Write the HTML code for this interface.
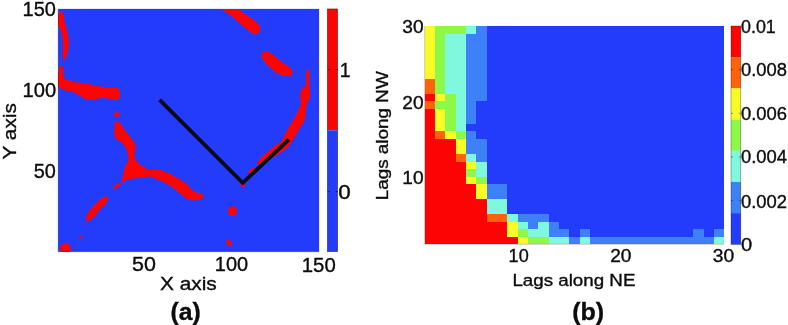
<!DOCTYPE html>
<html lang="en">
<head>
<meta charset="utf-8">
<title>Figure: binary map and lag plot</title>
<style>
html,body{margin:0;padding:0;background:#fff;}
body{width:788px;height:325px;overflow:hidden;}
svg{display:block;}
text{font-family:"Liberation Sans",Arial,Helvetica,sans-serif;fill:#0c0c0c;stroke:#0c0c0c;stroke-width:0.35px;}
</style>
</head>
<body>
<svg width="788" height="325" viewBox="0 0 788 325">
<rect width="788" height="325" fill="#fff"/>
<defs><clipPath id="ca"><rect x="58.2" y="8.9" width="260.9" height="242.8"/></clipPath></defs>
<!-- panel a -->
<rect x="58.2" y="8.9" width="260.9" height="242.8" fill="#233cfc"/>
<g clip-path="url(#ca)" fill="#fd0404">
<path d="M60 11.5C60.67 11.25 61.98 10.67 62.8 12.5C63.62 14.33 64.13 19.3 64.9 22.5C65.67 25.7 66.72 28.63 67.4 31.7C68.08 34.77 68.87 37.82 69 40.9C69.13 43.98 68.73 47.38 68.2 50.2C67.67 53.02 66.45 55.97 65.8 57.8C65.15 59.63 64.73 61 64.3 61.2C63.87 61.4 63.45 60.37 63.2 59C62.95 57.63 62.87 56 62.8 53C62.73 50 63.07 44.55 62.8 41C62.53 37.45 61.75 34.03 61.2 31.7C60.65 29.37 60.12 28.28 59.5 27C58.88 25.72 57.83 25.67 57.5 24C57.17 22.33 57.28 18.67 57.5 17C57.72 15.33 58.38 14.92 58.8 14C59.22 13.08 59.33 11.75 60 11.5Z"/>
<path d="M60 66C60.62 65.42 62.42 65.5 63 66.5C63.58 67.5 63.37 70.08 63.5 72C63.63 73.92 63.38 76.75 63.8 78C64.22 79.25 64.97 79.08 66 79.5C67.03 79.92 68.5 80.08 70 80.5C71.5 80.92 73 81.58 75 82C77 82.42 79.83 82.67 82 83C84.17 83.33 85.83 83.58 88 84C90.17 84.42 92.92 85.08 95 85.5C97.08 85.92 98.33 86.17 100.5 86.5C102.67 86.83 105.5 87.25 108 87.5C110.5 87.75 113.67 87.67 115.5 88C117.33 88.33 118.25 88.67 119 89.5C119.75 90.33 119.92 91.58 120 93C120.08 94.42 120 96.83 119.5 98C119 99.17 118.25 99.75 117 100C115.75 100.25 113.92 99.83 112 99.5C110.08 99.17 107.83 98.18 105.5 98C103.17 97.82 99.92 98.15 98 98.4C96.08 98.65 95.27 99.23 94 99.5C92.73 99.77 91.73 100.08 90.4 100C89.07 99.92 87.27 99.43 86 99C84.73 98.57 84.13 98.15 82.8 97.4C81.47 96.65 79.3 95.27 78 94.5C76.7 93.73 76.33 93.3 75 92.8C73.67 92.3 71.67 91.92 70 91.5C68.33 91.08 66.5 90.8 65 90.3C63.5 89.8 62.25 89.13 61 88.5C59.75 87.87 58.08 88.25 57.5 86.5C56.92 84.75 57.2 80.75 57.5 78C57.8 75.25 58.88 72 59.3 70C59.72 68 59.38 66.58 60 66Z"/>
<path d="M117 121.5C117.95 121.63 119.23 122.15 120.7 123.8C122.17 125.45 123.92 128.87 125.8 131.4C127.68 133.93 130.4 136.68 132 139C133.6 141.32 134.9 143.47 135.4 145.3C135.9 147.13 135.13 148.32 135 150C134.87 151.68 134.27 153.45 134.6 155.4C134.93 157.35 135.53 159.82 137 161.7C138.47 163.58 141.23 165.32 143.4 166.7C145.57 168.08 147.63 169.58 150 170C152.37 170.42 155.07 168.9 157.6 169.2C160.13 169.5 162.25 170.53 165.2 171.8C168.15 173.07 171.93 174.92 175.3 176.8C178.67 178.68 182.45 180.78 185.4 183.1C188.35 185.42 190.27 188.88 193 190.7C195.73 192.52 200.05 193.12 201.8 194C203.55 194.88 203.47 195.17 203.5 196C203.53 196.83 202.92 198.37 202 199C201.08 199.63 199.93 199.58 198 199.8C196.07 200.02 192.93 200.97 190.4 200.3C187.87 199.63 185.32 197.62 182.8 195.8C180.28 193.98 178.23 191.52 175.3 189.4C172.37 187.28 168.58 184.9 165.2 183.1C161.82 181.3 157.53 179.7 155 178.6C152.47 177.5 152.77 176.6 150 176.5C147.23 176.4 142.02 177.53 138.4 178C134.78 178.47 130.83 178.65 128.3 179.3C125.77 179.95 124.33 181.37 123.2 181.9C122.07 182.43 121.7 183.15 121.5 182.5C121.3 181.85 121.72 179.15 122 178C122.28 176.85 122.78 177.27 123.2 175.6C123.62 173.93 123.65 170.53 124.5 168C125.35 165.47 127.8 162.57 128.3 160.4C128.8 158.23 127.72 156.68 127.5 155C127.28 153.32 127.92 152.35 127 150.3C126.08 148.25 123.67 144.5 122 142.7C120.33 140.9 118.13 140.33 117 139.5C115.87 138.67 115.67 138.78 115.2 137.7C114.73 136.62 114.33 134.68 114.2 133C114.07 131.32 114.27 129.27 114.4 127.6C114.53 125.93 114.57 124.02 115 123C115.43 121.98 116.05 121.37 117 121.5Z"/>
<path d="M221 7C222.92 6.25 233.25 6.42 236.5 7C239.75 7.58 239.08 9.33 240.5 10.5C241.92 11.67 242.75 12.42 245 14C247.25 15.58 251.53 17.92 254 20C256.47 22.08 258.8 24.83 259.8 26.5C260.8 28.17 260.3 28.83 260 30C259.7 31.17 258.78 32.75 258 33.5C257.22 34.25 256.38 34.62 255.3 34.5C254.22 34.38 253.22 33.92 251.5 32.8C249.78 31.68 247.32 29.68 245 27.8C242.68 25.92 239.97 23.55 237.6 21.5C235.23 19.45 232.9 17.17 230.8 15.5C228.7 13.83 226.63 12.92 225 11.5C223.37 10.08 219.08 7.75 221 7Z"/>
<path d="M261.5 54.3C261.7 53.08 262.92 52.42 264 52C265.08 51.58 266.08 51 268 51.8C269.92 52.6 273 54.93 275.5 56.8C278 58.67 280.48 61.13 283 63C285.52 64.87 289.02 66.5 290.6 68C292.18 69.5 292.35 70.83 292.5 72C292.65 73.17 292.03 74.33 291.5 75C290.97 75.67 290.72 75.87 289.3 76C287.88 76.13 285.3 76.47 283 75.8C280.7 75.13 278 73.7 275.5 72C273 70.3 270.12 67.72 268 65.6C265.88 63.48 263.88 61.18 262.8 59.3C261.72 57.42 261.3 55.52 261.5 54.3Z"/>
<path d="M308.3 69.6C308.8 69.77 309.3 69.43 309.5 72C309.7 74.57 309.45 82.17 309.5 85C309.55 87.83 309.67 87.33 309.8 89C309.93 90.67 310.43 93.17 310.3 95C310.17 96.83 309.55 98.5 309 100C308.45 101.5 307.53 102.25 307 104C306.47 105.75 306.22 107.73 305.8 110.5C305.38 113.27 305.77 117.23 304.5 120.6C303.23 123.97 300.12 127.47 298.2 130.7C296.28 133.93 294.7 137.28 293 140C291.3 142.72 290 144.92 288 147C286 149.08 283.33 150.83 281 152.5C278.67 154.17 276.5 155.5 274 157C271.5 158.5 268.67 160.25 266 161.5C263.33 162.75 259.5 164.25 258 164.5C256.5 164.75 256.33 164.25 257 163C257.67 161.75 260.17 158.92 262 157C263.83 155.08 265.67 153.5 268 151.5C270.33 149.5 273.7 146.78 276 145C278.3 143.22 280 143.18 281.8 140.8C283.6 138.42 284.93 134.07 286.8 130.7C288.67 127.33 291.1 123.97 293 120.6C294.9 117.23 296.92 113.27 298.2 110.5C299.48 107.73 300.32 105.75 300.7 104C301.08 102.25 300.58 101.5 300.5 100C300.42 98.5 299.95 96.83 300.2 95C300.45 93.17 301.07 90.67 302 89C302.93 87.33 305.17 87.33 305.8 85C306.43 82.67 305.68 77.33 305.8 75C305.92 72.67 306.08 71.9 306.5 71C306.92 70.1 307.8 69.43 308.3 69.6Z"/>
<circle cx="116.8" cy="114.6" r="2.6"/>
<ellipse cx="117" cy="186" rx="4.4" ry="1.7" transform="rotate(-38 117 186)"/>
<path d="M86.1 220.4C86.02 219.13 86.47 216.12 87.4 214.1C88.33 212.08 90.15 210.2 91.7 208.3C93.25 206.4 95.02 204.38 96.7 202.7C98.38 201.02 100.12 199.25 101.8 198.2C103.48 197.15 105.75 196.28 106.8 196.4C107.85 196.52 108.3 197.63 108.1 198.9C107.9 200.17 106.87 202.32 105.6 204C104.33 205.68 101.98 207.32 100.5 209C99.02 210.68 98.17 212.42 96.7 214.1C95.23 215.78 93.17 217.83 91.7 219.1C90.23 220.37 88.83 221.48 87.9 221.7C86.97 221.92 86.18 221.67 86.1 220.4Z"/>
<circle cx="80.8" cy="236.8" r="1.5"/>
<ellipse cx="65.5" cy="248.8" rx="5.4" ry="5.6"/>
<ellipse cx="232.6" cy="211.2" rx="4.5" ry="5"/>
<ellipse cx="229" cy="243" rx="2.3" ry="3.6" transform="rotate(-25 229 243)"/>
<ellipse cx="251.5" cy="170.8" rx="4" ry="1.8" transform="rotate(-40 251.5 170.8)"/>
<circle cx="242.7" cy="184.8" r="2.4"/>
<circle cx="317.8" cy="63" r="0.8"/>
</g>
<path d="M159.6 99.9 L242.7 182.9 L288.8 139.6" fill="none" stroke="#0a0a14" stroke-width="3.8" stroke-linejoin="miter"/>
<rect x="327.3" y="8.9" width="10.4" height="121.4" fill="#fd0404"/>
<rect x="327.3" y="130.3" width="10.4" height="121.4" fill="#233cfc"/>
<!-- panel b -->
<g shape-rendering="crispEdges">
<rect x="424.6" y="26" width="299.5" height="218.3" fill="#233cfc"/>
<rect x="424.6" y="26" width="10.48" height="7.68" fill="#f8fc24"/>
<rect x="434.93" y="26" width="31.13" height="7.68" fill="#8ef848"/>
<rect x="465.91" y="26" width="10.48" height="7.68" fill="#7ef9dd"/>
<rect x="476.24" y="26" width="10.48" height="7.68" fill="#3d80f8"/>
<rect x="424.6" y="33.53" width="10.48" height="7.68" fill="#f8fc24"/>
<rect x="434.93" y="33.53" width="10.48" height="7.68" fill="#8ef848"/>
<rect x="445.26" y="33.53" width="20.81" height="7.68" fill="#7ef9dd"/>
<rect x="465.91" y="33.53" width="20.81" height="7.68" fill="#3d80f8"/>
<rect x="424.6" y="41.06" width="10.48" height="7.68" fill="#f8fc24"/>
<rect x="434.93" y="41.06" width="10.48" height="7.68" fill="#8ef848"/>
<rect x="445.26" y="41.06" width="20.81" height="7.68" fill="#7ef9dd"/>
<rect x="465.91" y="41.06" width="20.81" height="7.68" fill="#3d80f8"/>
<rect x="424.6" y="48.58" width="10.48" height="7.68" fill="#f8fc24"/>
<rect x="434.93" y="48.58" width="10.48" height="7.68" fill="#8ef848"/>
<rect x="445.26" y="48.58" width="20.81" height="7.68" fill="#7ef9dd"/>
<rect x="465.91" y="48.58" width="20.81" height="7.68" fill="#3d80f8"/>
<rect x="424.6" y="56.11" width="10.48" height="7.68" fill="#f8fc24"/>
<rect x="434.93" y="56.11" width="10.48" height="7.68" fill="#8ef848"/>
<rect x="445.26" y="56.11" width="20.81" height="7.68" fill="#7ef9dd"/>
<rect x="465.91" y="56.11" width="20.81" height="7.68" fill="#3d80f8"/>
<rect x="424.6" y="63.64" width="10.48" height="7.68" fill="#f8fc24"/>
<rect x="434.93" y="63.64" width="10.48" height="7.68" fill="#8ef848"/>
<rect x="445.26" y="63.64" width="20.81" height="7.68" fill="#7ef9dd"/>
<rect x="465.91" y="63.64" width="20.81" height="7.68" fill="#3d80f8"/>
<rect x="424.6" y="71.17" width="10.48" height="7.68" fill="#f8fc24"/>
<rect x="434.93" y="71.17" width="10.48" height="7.68" fill="#8ef848"/>
<rect x="445.26" y="71.17" width="20.81" height="7.68" fill="#7ef9dd"/>
<rect x="465.91" y="71.17" width="20.81" height="7.68" fill="#3d80f8"/>
<rect x="424.6" y="78.69" width="10.48" height="7.68" fill="#ff620a"/>
<rect x="434.93" y="78.69" width="10.48" height="7.68" fill="#8ef848"/>
<rect x="445.26" y="78.69" width="20.81" height="7.68" fill="#7ef9dd"/>
<rect x="465.91" y="78.69" width="20.81" height="7.68" fill="#3d80f8"/>
<rect x="424.6" y="86.22" width="10.48" height="7.68" fill="#ff620a"/>
<rect x="434.93" y="86.22" width="10.48" height="7.68" fill="#8ef848"/>
<rect x="445.26" y="86.22" width="20.81" height="7.68" fill="#7ef9dd"/>
<rect x="465.91" y="86.22" width="20.81" height="7.68" fill="#3d80f8"/>
<rect x="424.6" y="93.75" width="10.48" height="7.68" fill="#fd0404"/>
<rect x="434.93" y="93.75" width="10.48" height="7.68" fill="#f8fc24"/>
<rect x="445.26" y="93.75" width="10.48" height="7.68" fill="#8ef848"/>
<rect x="455.58" y="93.75" width="10.48" height="7.68" fill="#7ef9dd"/>
<rect x="465.91" y="93.75" width="20.81" height="7.68" fill="#3d80f8"/>
<rect x="424.6" y="101.28" width="10.48" height="7.68" fill="#ff620a"/>
<rect x="434.93" y="101.28" width="20.81" height="7.68" fill="#8ef848"/>
<rect x="455.58" y="101.28" width="10.48" height="7.68" fill="#7ef9dd"/>
<rect x="465.91" y="101.28" width="10.48" height="7.68" fill="#3d80f8"/>
<rect x="424.6" y="108.8" width="10.48" height="7.68" fill="#fd0404"/>
<rect x="434.93" y="108.8" width="10.48" height="7.68" fill="#f8fc24"/>
<rect x="445.26" y="108.8" width="10.48" height="7.68" fill="#8ef848"/>
<rect x="455.58" y="108.8" width="10.48" height="7.68" fill="#7ef9dd"/>
<rect x="465.91" y="108.8" width="10.48" height="7.68" fill="#3d80f8"/>
<rect x="424.6" y="116.33" width="10.48" height="7.68" fill="#fd0404"/>
<rect x="434.93" y="116.33" width="10.48" height="7.68" fill="#f8fc24"/>
<rect x="445.26" y="116.33" width="10.48" height="7.68" fill="#8ef848"/>
<rect x="455.58" y="116.33" width="10.48" height="7.68" fill="#7ef9dd"/>
<rect x="465.91" y="116.33" width="10.48" height="7.68" fill="#3d80f8"/>
<rect x="424.6" y="123.86" width="10.48" height="7.68" fill="#fd0404"/>
<rect x="434.93" y="123.86" width="10.48" height="7.68" fill="#f8fc24"/>
<rect x="445.26" y="123.86" width="10.48" height="7.68" fill="#8ef848"/>
<rect x="455.58" y="123.86" width="10.48" height="7.68" fill="#7ef9dd"/>
<rect x="424.6" y="131.39" width="10.48" height="7.68" fill="#fd0404"/>
<rect x="434.93" y="131.39" width="10.48" height="7.68" fill="#ff620a"/>
<rect x="445.26" y="131.39" width="10.48" height="7.68" fill="#f8fc24"/>
<rect x="455.58" y="131.39" width="10.48" height="7.68" fill="#8ef848"/>
<rect x="465.91" y="131.39" width="10.48" height="7.68" fill="#3d80f8"/>
<rect x="424.6" y="138.91" width="31.13" height="7.68" fill="#fd0404"/>
<rect x="455.58" y="138.91" width="10.48" height="7.68" fill="#f8fc24"/>
<rect x="465.91" y="138.91" width="20.81" height="7.68" fill="#3d80f8"/>
<rect x="424.6" y="146.44" width="31.13" height="7.68" fill="#fd0404"/>
<rect x="455.58" y="146.44" width="10.48" height="7.68" fill="#f8fc24"/>
<rect x="465.91" y="146.44" width="20.81" height="7.68" fill="#3d80f8"/>
<rect x="424.6" y="153.97" width="31.13" height="7.68" fill="#fd0404"/>
<rect x="455.58" y="153.97" width="10.48" height="7.68" fill="#ff620a"/>
<rect x="465.91" y="153.97" width="10.48" height="7.68" fill="#7ef9dd"/>
<rect x="476.24" y="153.97" width="10.48" height="7.68" fill="#3d80f8"/>
<rect x="424.6" y="161.5" width="41.46" height="7.68" fill="#fd0404"/>
<rect x="465.91" y="161.5" width="10.48" height="7.68" fill="#f8fc24"/>
<rect x="476.24" y="161.5" width="10.48" height="7.68" fill="#7ef9dd"/>
<rect x="424.6" y="169.02" width="41.46" height="7.68" fill="#fd0404"/>
<rect x="465.91" y="169.02" width="10.48" height="7.68" fill="#8ef848"/>
<rect x="476.24" y="169.02" width="10.48" height="7.68" fill="#7ef9dd"/>
<rect x="424.6" y="176.55" width="41.46" height="7.68" fill="#fd0404"/>
<rect x="465.91" y="176.55" width="10.48" height="7.68" fill="#f8fc24"/>
<rect x="476.24" y="176.55" width="10.48" height="7.68" fill="#8ef848"/>
<rect x="424.6" y="184.08" width="51.79" height="7.68" fill="#fd0404"/>
<rect x="476.24" y="184.08" width="10.48" height="7.68" fill="#f8fc24"/>
<rect x="486.57" y="184.08" width="20.81" height="7.68" fill="#3d80f8"/>
<rect x="424.6" y="191.61" width="51.79" height="7.68" fill="#fd0404"/>
<rect x="476.24" y="191.61" width="10.48" height="7.68" fill="#f8fc24"/>
<rect x="486.57" y="191.61" width="20.81" height="7.68" fill="#3d80f8"/>
<rect x="424.6" y="199.13" width="62.12" height="7.68" fill="#fd0404"/>
<rect x="486.57" y="199.13" width="20.81" height="7.68" fill="#7ef9dd"/>
<rect x="424.6" y="206.66" width="62.12" height="7.68" fill="#fd0404"/>
<rect x="486.57" y="206.66" width="20.81" height="7.68" fill="#7ef9dd"/>
<rect x="424.6" y="214.19" width="62.12" height="7.68" fill="#fd0404"/>
<rect x="486.57" y="214.19" width="20.81" height="7.68" fill="#ff620a"/>
<rect x="507.22" y="214.19" width="10.48" height="7.68" fill="#7ef9dd"/>
<rect x="517.55" y="214.19" width="31.13" height="7.68" fill="#3d80f8"/>
<rect x="424.6" y="221.72" width="82.77" height="7.68" fill="#fd0404"/>
<rect x="507.22" y="221.72" width="10.48" height="7.68" fill="#f8fc24"/>
<rect x="517.55" y="221.72" width="10.48" height="7.68" fill="#7ef9dd"/>
<rect x="527.88" y="221.72" width="10.48" height="7.68" fill="#3d80f8"/>
<rect x="538.2" y="221.72" width="10.48" height="7.68" fill="#7ef9dd"/>
<rect x="548.53" y="221.72" width="10.48" height="7.68" fill="#3d80f8"/>
<rect x="424.6" y="229.24" width="82.77" height="7.68" fill="#fd0404"/>
<rect x="507.22" y="229.24" width="10.48" height="7.68" fill="#f8fc24"/>
<rect x="517.55" y="229.24" width="10.48" height="7.68" fill="#8ef848"/>
<rect x="527.88" y="229.24" width="20.81" height="7.68" fill="#7ef9dd"/>
<rect x="548.53" y="229.24" width="20.81" height="7.68" fill="#3d80f8"/>
<rect x="579.51" y="229.24" width="10.48" height="7.68" fill="#3d80f8"/>
<rect x="693.12" y="229.24" width="10.48" height="7.68" fill="#3d80f8"/>
<rect x="713.77" y="229.24" width="10.48" height="7.68" fill="#3d80f8"/>
<rect x="424.6" y="236.77" width="93.1" height="7.68" fill="#fd0404"/>
<rect x="517.55" y="236.77" width="10.48" height="7.68" fill="#f8fc24"/>
<rect x="527.88" y="236.77" width="20.81" height="7.68" fill="#8ef848"/>
<rect x="548.53" y="236.77" width="20.81" height="7.68" fill="#7ef9dd"/>
<rect x="569.19" y="236.77" width="10.48" height="7.68" fill="#3d80f8"/>
<rect x="579.51" y="236.77" width="10.48" height="7.68" fill="#7ef9dd"/>
<rect x="589.84" y="236.77" width="124.08" height="7.68" fill="#3d80f8"/>
<rect x="713.77" y="236.77" width="10.48" height="7.68" fill="#7ef9dd"/>
</g>
<g>
<rect x="731" y="26" width="9.8" height="31.29" fill="#fd0404"/>
<rect x="731" y="57.19" width="9.8" height="31.29" fill="#ff620a"/>
<rect x="731" y="88.37" width="9.8" height="31.29" fill="#f8fc24"/>
<rect x="731" y="119.56" width="9.8" height="31.29" fill="#8ef848"/>
<rect x="731" y="150.74" width="9.8" height="31.29" fill="#7ef9dd"/>
<rect x="731" y="181.93" width="9.8" height="31.29" fill="#3d80f8"/>
<rect x="731" y="213.11" width="9.8" height="31.29" fill="#233cfc"/>
</g>
<path d="M327.6 69.6 h2.2 M335.6 69.6 h2.2" stroke="#000" stroke-width="0.8" opacity="0.7"/>
<path d="M327.6 191.6 h2.2 M335.6 191.6 h2.2" stroke="#000" stroke-width="0.8" opacity="0.7"/>
<path d="M731 69.66 h2 M740.8 69.66 h-2" stroke="#000" stroke-width="0.7" opacity="0.55"/>
<path d="M731 113.32 h2 M740.8 113.32 h-2" stroke="#000" stroke-width="0.7" opacity="0.55"/>
<path d="M731 156.98 h2 M740.8 156.98 h-2" stroke="#000" stroke-width="0.7" opacity="0.55"/>
<path d="M731 200.64 h2 M740.8 200.64 h-2" stroke="#000" stroke-width="0.7" opacity="0.55"/>
<rect x="327.3" y="8.9" width="10.4" height="242.8" fill="none" stroke="#000" stroke-width="0.6" opacity="0.55"/>
<rect x="731" y="26" width="9.8" height="218.3" fill="none" stroke="#000" stroke-width="0.6" opacity="0.5"/>
<path d="M58.2 8.9 V251.7 H319.1" fill="none" stroke="#000" stroke-width="0.7" opacity="0.45"/>
<path d="M424.6 26 V244.3 H724.1" fill="none" stroke="#000" stroke-width="0.7" opacity="0.3"/>
<g>
<text x="22.6" y="16.4" font-size="19.4" textLength="33.3" lengthAdjust="spacingAndGlyphs">150</text>
<text x="22.6" y="97" font-size="19.7" textLength="33.6" lengthAdjust="spacingAndGlyphs">100</text>
<text x="33.8" y="178.3" font-size="19.4" textLength="22.1" lengthAdjust="spacingAndGlyphs">50</text>
<text x="132" y="271.4" font-size="19.4" textLength="23.9" lengthAdjust="spacingAndGlyphs">50</text>
<text x="214.8" y="271.4" font-size="19.4" textLength="33.3" lengthAdjust="spacingAndGlyphs">100</text>
<text x="301.8" y="271.8" font-size="19.4" textLength="33.9" lengthAdjust="spacingAndGlyphs">150</text>
<text x="159.9" y="290.3" font-size="18.5" textLength="56.9" lengthAdjust="spacingAndGlyphs">X axis</text>
<text x="170.6" y="320.3" font-size="24.4" textLength="30.2" lengthAdjust="spacingAndGlyphs" font-weight="bold">(a)</text>
<text x="339.7" y="76.6" font-size="19.4" textLength="10.8" lengthAdjust="spacingAndGlyphs">1</text>
<text x="338.2" y="198.6" font-size="19.4" textLength="12.5" lengthAdjust="spacingAndGlyphs">0</text>
<text transform="translate(15.9 159.4) rotate(-90)" x="0" y="0" font-size="18.9" textLength="56.2" lengthAdjust="spacingAndGlyphs">Y axis</text>
<text transform="translate(388.1 200.3) rotate(-90)" x="0" y="0" font-size="16.8" textLength="129" lengthAdjust="spacingAndGlyphs">Lags along NW</text>
<text x="402.3" y="33.3" font-size="17.6" textLength="21.3" lengthAdjust="spacingAndGlyphs">30</text>
<text x="402.3" y="108.6" font-size="17.6" textLength="21.3" lengthAdjust="spacingAndGlyphs">20</text>
<text x="402.3" y="183.6" font-size="17.6" textLength="21.3" lengthAdjust="spacingAndGlyphs">10</text>
<text x="508.6" y="261.6" font-size="17.6" textLength="20.1" lengthAdjust="spacingAndGlyphs">10</text>
<text x="610.2" y="261.6" font-size="17.6" textLength="21.3" lengthAdjust="spacingAndGlyphs">20</text>
<text x="712.8" y="261.6" font-size="17.6" textLength="21.4" lengthAdjust="spacingAndGlyphs">30</text>
<text x="512.4" y="285.7" font-size="16.8" textLength="123" lengthAdjust="spacingAndGlyphs">Lags along NE</text>
<text x="572.2" y="320.3" font-size="24.4" textLength="32" lengthAdjust="spacingAndGlyphs" font-weight="bold">(b)</text>
<text x="741" y="33.3" font-size="17.6" textLength="34.8" lengthAdjust="spacingAndGlyphs">0.01</text>
<text x="741" y="75.9" font-size="17.6" textLength="46" lengthAdjust="spacingAndGlyphs">0.008</text>
<text x="741" y="119.5" font-size="17.6" textLength="46" lengthAdjust="spacingAndGlyphs">0.006</text>
<text x="741" y="163.3" font-size="17.6" textLength="46" lengthAdjust="spacingAndGlyphs">0.004</text>
<text x="741" y="207.9" font-size="17.6" textLength="46" lengthAdjust="spacingAndGlyphs">0.002</text>
<text x="741" y="250.7" font-size="17.6" textLength="11.2" lengthAdjust="spacingAndGlyphs">0</text>
</g>
</svg>
</body>
</html>
